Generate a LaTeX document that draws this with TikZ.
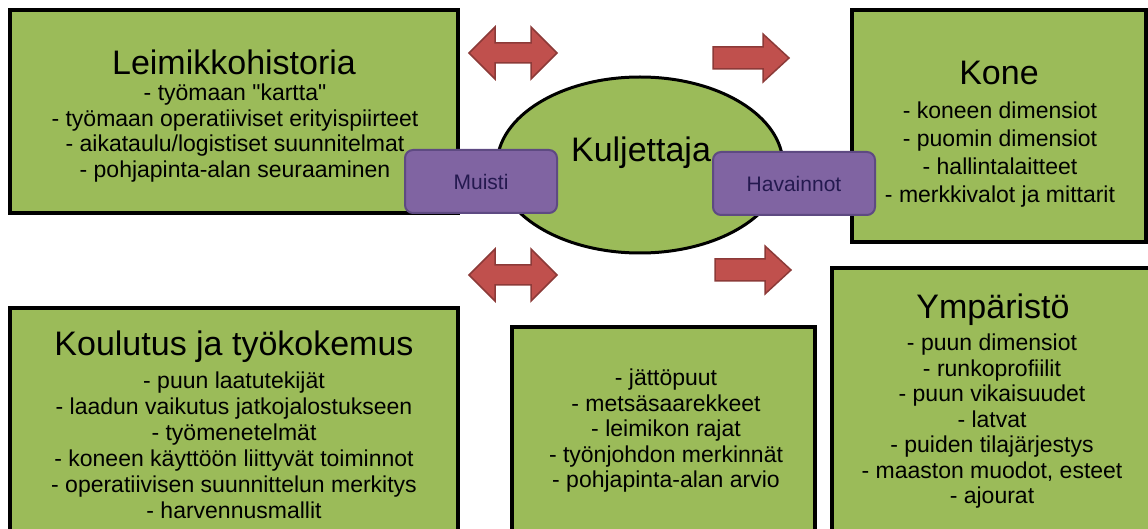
\documentclass[tikz,border=0pt]{standalone}
\usepackage{fontspec}
\setmainfont{Liberation Sans}[Ligatures=TeXOff]
\usetikzlibrary{shapes.geometric}
\definecolor{boxgreen}{HTML}{9BBB59}
\definecolor{arrowred}{HTML}{C0504D}
\definecolor{arrowedge}{HTML}{8C3A38}
\definecolor{memviolet}{HTML}{8064A2}
\definecolor{memedge}{HTML}{5E4A82}
\definecolor{memtext}{HTML}{24194F}
\tikzset{
  infobox/.style={draw=black,line width=4pt,fill=boxgreen,inner sep=0pt},
  boxtitle/.style={font=\fontsize{34}{38}\selectfont,inner sep=0pt},
  boxlist/.style={font=\fontsize{23}{#1}\selectfont,align=center,inner sep=0pt},
  boxlist/.default=25.5,
  tagbox/.style={draw=memedge,line width=2pt,fill=memviolet,rounded corners=8pt,
    text=memtext,font=\fontsize{21}{24}\selectfont},
  arrowshape/.style={fill=arrowred,draw=arrowedge,line width=1.5pt,line join=miter},
  dblarrow/.pic={\filldraw[arrowshape](-44,0)--(-18,-26)--(-18,-10)--(18,-10)--(18,-26)
    --(44,0)--(18,26)--(18,10)--(-18,10)--(-18,26)--cycle;},
  fwdarrow/.pic={\filldraw[arrowshape](-38,-11)--(12,-11)--(12,-24)--(38,0)--(12,24)
    --(12,11)--(-38,11)--cycle;}
}
\begin{document}
\begin{tikzpicture}[x=1pt,y=-1pt]
\useasboundingbox (0,0) rectangle (1148,529);
\clip (0,0) rectangle (1148,529);
% laatikot
\node[infobox,minimum width=448,minimum height=203](leim)at(234,111.5){};
\node[infobox,minimum width=294,minimum height=232](kone)at(999,126){};
\node[infobox,minimum width=448,minimum height=227](koul)at(234,421.5){};
\node[infobox,minimum width=303,minimum height=208](merk)at(663.5,431){};
\node[infobox,minimum width=320,minimum height=267](ymp)at(992,401.5){};
\node[boxtitle](leimT)at(234,62){Leimikkohistoria};
\node[boxlist](leimL)at(235,133){- työmaan "kartta"\\- työmaan operatiiviset erityispiirteet\\
  - aikataulu/logistiset suunnitelmat\\- pohjapinta-alan seuraaminen};
\node[boxtitle](koneT)at(999,73){Kone};
\node[boxlist=28](koneL)at(1000,155){- koneen dimensiot\\- puomin dimensiot\\
  - hallintalaitteet\\- merkkivalot ja mittarit};
\node[boxtitle](koulT)at(234,347){Koulutus ja työkokemus};
\node[boxlist=26](koulL)at(234,445){- puun laatutekijät\\- laadun vaikutus jatkojalostukseen\\
  - työmenetelmät\\- koneen käyttöön liittyvät toiminnot\\
  - operatiivisen suunnittelun merkitys\\- harvennusmallit};
\node[boxlist](merkL)at(666,431){- jättöpuut\\- metsäsaarekkeet\\- leimikon rajat\\
  - työnjohdon merkinnät\\- pohjapinta-alan arvio};
\node[boxtitle](ympT)at(993,310){Ympäristö};
\node[boxlist](ympL)at(992,421.5){- puun dimensiot\\- runkoprofiilit\\- puun vikaisuudet\\
  - latvat\\- puiden tilajärjestys\\- maaston muodot, esteet\\- ajourat};
% kuljettaja
\node[ellipse,draw=black,line width=3pt,fill=boxgreen,minimum width=286,minimum height=176,
  inner sep=0pt](kulj)at(640,165){};
\node[boxtitle](kuljT)at(641,153){Kuljettaja};
\node[tagbox,minimum width=152,minimum height=63](muisti)at(481,181.5){Muisti};
\node[tagbox,minimum width=162,minimum height=63](hav)at(794,183.5){Havainnot};
% nuolet
\pic(arrLT)at(513,53){dblarrow};
\pic(arrLB)at(513,275){dblarrow};
\pic(arrRT)at(751,58){fwdarrow};
\pic(arrRB)at(753,270){fwdarrow};
\end{tikzpicture}
\end{document}
